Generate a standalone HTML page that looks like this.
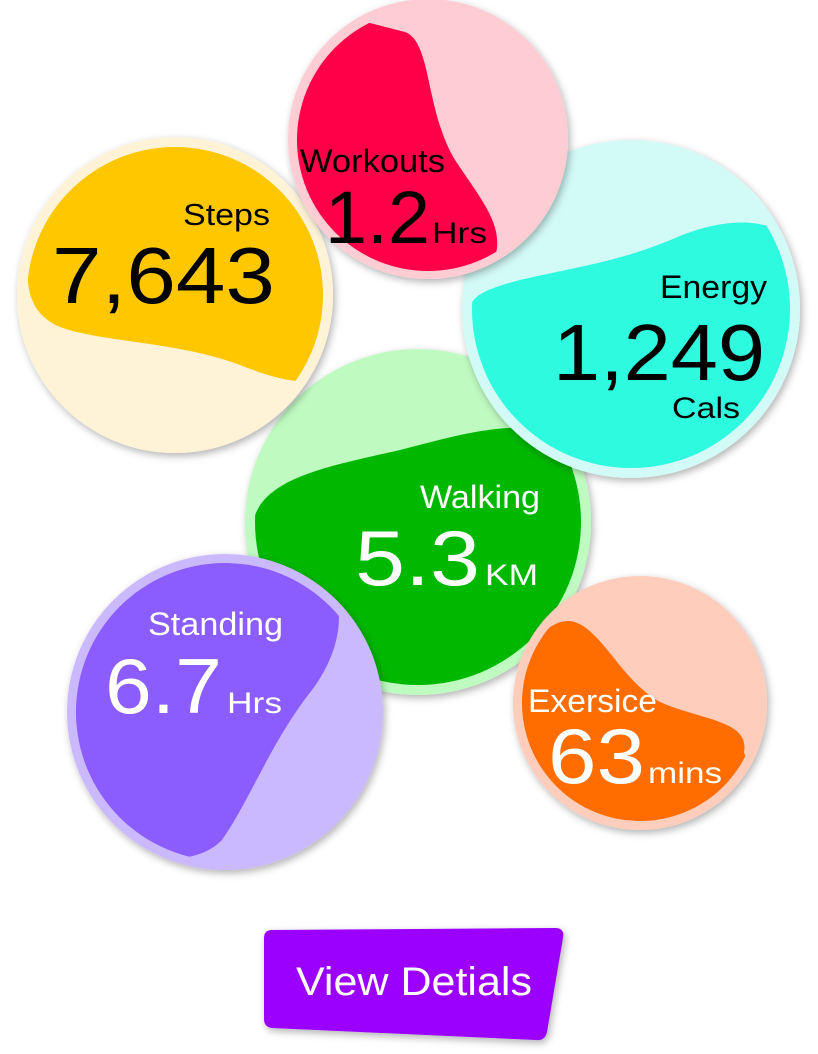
<!DOCTYPE html>
<html><head><meta charset="utf-8"><style>
html,body{margin:0;padding:0;background:#fff;width:818px;height:1054px;overflow:hidden}
svg{display:block}
text{font-family:"Liberation Sans",sans-serif}
</style></head><body>
<svg width="818" height="1054" viewBox="0 0 818 1054">
<defs>
<filter id="sh" x="-20%" y="-20%" width="140%" height="140%"><feDropShadow dx="2" dy="3" stdDeviation="4" flood-color="#000" flood-opacity="0.3"/></filter>
<clipPath id="cWalk"><circle cx="418" cy="522" r="163"/></clipPath>
<clipPath id="cSteps"><circle cx="175" cy="295" r="148"/></clipPath>
<clipPath id="cWork"><circle cx="428" cy="140" r="131"/></clipPath>
<clipPath id="cEn"><circle cx="631" cy="309" r="159"/></clipPath>
<clipPath id="cStand"><circle cx="225" cy="712" r="149"/></clipPath>
<clipPath id="cEx"><circle cx="640" cy="703" r="118"/></clipPath>
</defs>

<g>
<circle cx="418" cy="522" r="173" fill="#bffbc1" filter="url(#sh)"/>
<path clip-path="url(#cWalk)" fill="#00b800" d="M252,530 C255,480 320,468 400,450 C470,432 540,410 600,450 L600,700 L245,700 Z"/>
<text x="420" y="508" font-size="32" fill="#fff" textLength="120" lengthAdjust="spacingAndGlyphs">Walking</text>
<text x="355" y="585" font-size="78" fill="#fff" textLength="125" lengthAdjust="spacingAndGlyphs">5.3</text>
<text x="485" y="585" font-size="30" fill="#fff" textLength="53" lengthAdjust="spacingAndGlyphs">KM</text>
</g>

<g>
<circle cx="175" cy="295" r="158" fill="#fef3d7" filter="url(#sh)"/>
<path clip-path="url(#cSteps)" fill="#fec700" d="M10,130 L340,130 L340,365 C320,388 290,385 240,365 C180,342 100,342 60,327 C30,314 25,290 28,250 Z"/>
<text x="183" y="225" font-size="31" fill="#000" textLength="87" lengthAdjust="spacingAndGlyphs">Steps</text>
<text x="52" y="303" font-size="80" fill="#000" textLength="223" lengthAdjust="spacingAndGlyphs">7,643</text>
</g>

<g>
<circle cx="631" cy="309" r="169" fill="#d2faf6" filter="url(#sh)"/>
<path clip-path="url(#cEn)" fill="#2efadf" d="M470,310 C470,295 490,288 520,280 C580,266 620,262 680,236 C740,212 790,220 800,260 L800,480 L460,480 Z"/>
<text x="660" y="298" font-size="32" fill="#000" textLength="107" lengthAdjust="spacingAndGlyphs">Energy</text>
<text x="553" y="380" font-size="80" fill="#000" textLength="212" lengthAdjust="spacingAndGlyphs">1,249</text>
<text x="672" y="418" font-size="30" fill="#000" textLength="68" lengthAdjust="spacingAndGlyphs">Cals</text>
</g>

<g>
<circle cx="428" cy="139" r="140" fill="#fecdd3" filter="url(#sh)"/>
<path clip-path="url(#cWork)" fill="#ff0048" d="M280,0 L405,32 C432,42 425,110 455,160 C478,195 500,220 497,248 C495,268 470,272 440,275 L280,280 Z"/>
<text x="300" y="172" font-size="32" fill="#000" textLength="145" lengthAdjust="spacingAndGlyphs">Workouts</text>
<text x="325" y="243" font-size="74" fill="#000" textLength="105" lengthAdjust="spacingAndGlyphs">1.2</text>
<text x="432" y="243" font-size="30" fill="#000" textLength="55" lengthAdjust="spacingAndGlyphs">Hrs</text>
</g>

<g>
<circle cx="225" cy="712" r="158" fill="#cbb9fe" filter="url(#sh)"/>
<path clip-path="url(#cStand)" fill="#8b5cfe" d="M60,550 L320,570 C350,600 342,650 312,690 C272,740 250,800 222,840 C200,862 170,862 60,862 Z"/>
<text x="148" y="635" font-size="32" fill="#fff" textLength="135" lengthAdjust="spacingAndGlyphs">Standing</text>
<text x="105" y="713" font-size="78" fill="#fff" textLength="117" lengthAdjust="spacingAndGlyphs">6.7</text>
<text x="227" y="713" font-size="30" fill="#fff" textLength="55" lengthAdjust="spacingAndGlyphs">Hrs</text>
</g>

<g>
<circle cx="640" cy="703" r="127" fill="#fecdbb" filter="url(#sh)"/>
<path clip-path="url(#cEx)" fill="#ff6d00" d="M520,680 C530,640 550,620 570,621 C600,625 620,680 660,702 C700,720 750,720 744,752 L770,840 L510,840 Z"/>
<text x="528" y="712" font-size="32" fill="#fff" textLength="129" lengthAdjust="spacingAndGlyphs">Exersice</text>
<text x="548" y="783" font-size="78" fill="#fff" textLength="97" lengthAdjust="spacingAndGlyphs">63</text>
<text x="648" y="783" font-size="30" fill="#fff" textLength="74" lengthAdjust="spacingAndGlyphs">mins</text>
</g>

<g>
<path filter="url(#sh)" fill="#9b00ff" d="M272,930 L555,928 Q565,928 563,938 L547,1032 Q545,1041 536,1040 L272,1028 Q264,1027 264,1019 L264,938 Q264,930 272,930 Z"/>
<text x="296" y="995" font-size="40" fill="#fff" textLength="236" lengthAdjust="spacingAndGlyphs">View Detials</text>
</g>
</svg>
</body></html>
